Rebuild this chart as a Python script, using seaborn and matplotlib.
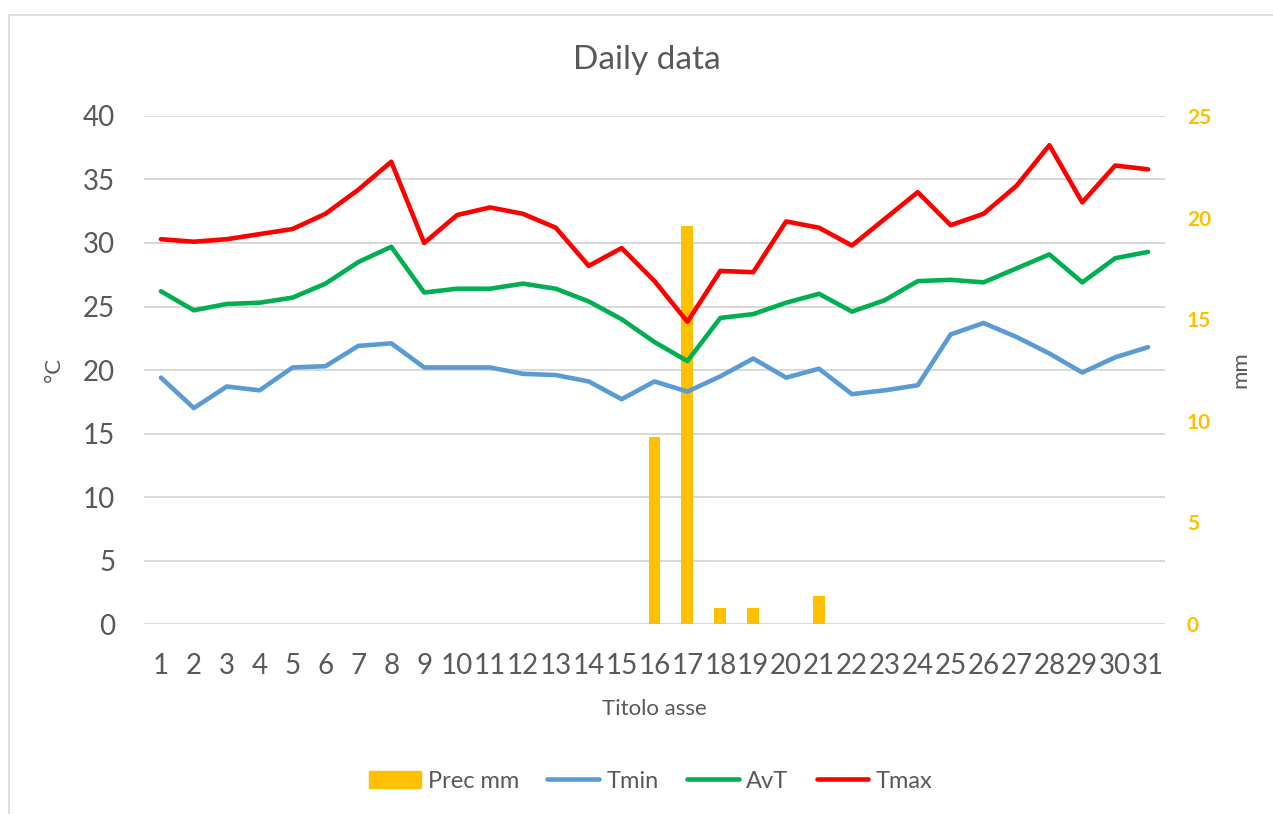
import matplotlib
matplotlib.use("Agg")
import matplotlib.pyplot as plt
import pandas as pd
import seaborn as sns
from matplotlib.lines import Line2D
from matplotlib.patches import Patch, Rectangle

# daily values
days = list(range(1, 32))
tmin = [19.4, 17.0, 18.7, 18.4, 20.2, 20.3, 21.9, 22.1, 20.2, 20.2,
        20.2, 19.7, 19.6, 19.1, 17.7, 19.1, 18.3, 19.5, 20.9, 19.4,
        20.1, 18.1, 18.4, 18.8, 22.8, 23.7, 22.6, 21.3, 19.8, 21.0, 21.8]
avt = [26.2, 24.7, 25.2, 25.3, 25.7, 26.8, 28.5, 29.7, 26.1, 26.4,
       26.4, 26.8, 26.4, 25.4, 24.0, 22.2, 20.7, 24.1, 24.4, 25.3,
       26.0, 24.6, 25.5, 27.0, 27.1, 26.9, 28.0, 29.1, 26.9, 28.8, 29.3]
tmax = [30.3, 30.1, 30.3, 30.7, 31.1, 32.3, 34.2, 36.4, 30.0, 32.2,
        32.8, 32.3, 31.2, 28.2, 29.6, 27.0, 23.8, 27.8, 27.7, 31.7,
        31.2, 29.8, 31.9, 34.0, 31.4, 32.3, 34.5, 37.7, 33.2, 36.1, 35.8]
prec = [0, 0, 0, 0, 0, 0, 0, 0, 0, 0,
        0, 0, 0, 0, 0, 9.2, 19.6, 0.8, 0.8, 0,
        1.4, 0, 0, 0, 0, 0, 0, 0, 0, 0, 0]

series_names = ["Tmin", "AvT", "Tmax"]
colors = {"Tmin": "#5B9BD5", "AvT": "#00B050", "Tmax": "#FF0000"}
prec_color = "#FFC000"
text_color = "#595959"
grid_color = "#D9D9D9"

df = pd.DataFrame({"day": days * 3,
                   "value": tmin + avt + tmax,
                   "series": ["Tmin"] * 31 + ["AvT"] * 31 + ["Tmax"] * 31})

sns.set_theme(style="white")
plt.rcParams["font.family"] = ["Lato", "DejaVu Sans"]

fig = plt.figure(figsize=(12.73, 8.14), dpi=100)
rect = [0.1135, 0.2334, 0.8013, 0.6241]
ax = fig.add_axes(rect)
ax2 = ax.twinx()
ax3 = fig.add_axes(rect, sharex=ax, sharey=ax)
ax.set_zorder(0)
ax2.set_zorder(1)
ax3.set_zorder(2)
ax2.patch.set_visible(False)
ax3.patch.set_visible(False)

# precipitation bars on the right scale
sns.barplot(x=days, y=prec, ax=ax2, native_scale=True, color=prec_color,
            width=0.36, linewidth=0, saturation=1)

# temperature lines on the left scale
sns.lineplot(data=df, x="day", y="value", hue="series", palette=colors,
             hue_order=series_names, linewidth=3.3, ax=ax3, legend=False,
             solid_capstyle="round", solid_joinstyle="round")
ax3.axis("off")

ax.set_xlim(0.5, 31.5)
ax.set_ylim(0, 40)
ax.set_yticks(range(0, 41, 5))
ax.set_xticks(days)
ax.set_xticklabels([str(d) for d in days])
ax.yaxis.grid(True, color=grid_color, linewidth=1.4)
ax.xaxis.grid(False)
ax.tick_params(axis="both", length=0, labelsize=20, labelcolor=text_color)
ax.tick_params(axis="y", pad=21)
ax.tick_params(axis="x", pad=21)
ax.set_xlabel("Titolo asse", fontsize=16, color=text_color, labelpad=14)
ax.set_ylabel("°C", fontsize=16, color=text_color, labelpad=14)

ax2.set_ylim(0, 25)
ax2.set_yticks(range(0, 26, 5))
ax2.set_xlabel("")
ax2.tick_params(axis="y", length=0, labelsize=15, labelcolor=prec_color, pad=16)
for lbl in ax2.get_yticklabels():
    lbl.set_fontweight("bold")
ax2.set_ylabel("mm", fontsize=16, color=text_color, labelpad=14)
ax2.grid(False)

for a in (ax, ax2):
    for s in a.spines.values():
        s.set_visible(False)

fig.text(0.508, 0.926, "Daily data", ha="center", va="center",
         fontsize=24, color=text_color)

handles = [Patch(color=prec_color)] + [
    Line2D([], [], color=colors[n], linewidth=3.3, solid_capstyle="round")
    for n in series_names]
fig.legend(handles, ["Prec mm"] + series_names, loc="center",
           bbox_to_anchor=(0.511, 0.0405), ncol=4, frameon=False,
           fontsize=17, handlelength=2.2, handletextpad=0.3,
           columnspacing=1.2, labelcolor=text_color)

fig.add_artist(Rectangle((9 / 1273, -0.01), 1.1, 1 - 15 / 814 + 0.01,
                         transform=fig.transFigure, fill=False,
                         edgecolor=grid_color, linewidth=1.2))

fig.savefig("out.png", dpi=100)
